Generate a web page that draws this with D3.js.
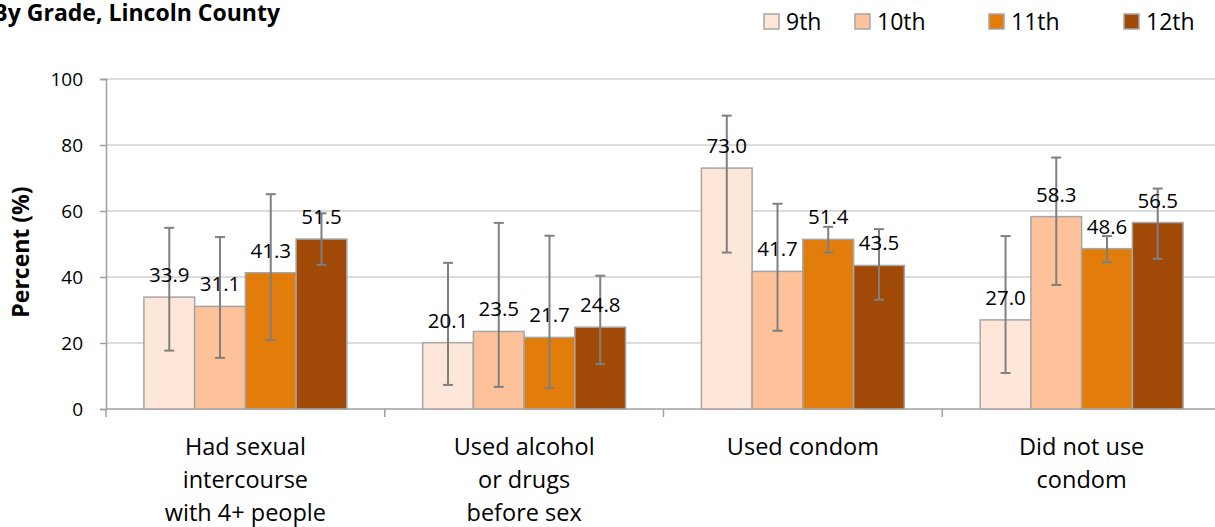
<!DOCTYPE html>
<html lang="en">
<head>
<meta charset="UTF-8">
<title>By Grade, Lincoln County</title>
<script src="https://d3js.org/d3.v7.min.js"></script>
<style>
  body { margin: 0; background: #fff; }
  text { font-family: "Open Sans", sans-serif; fill: #000; }
</style>
</head>
<body>
<script>
// data
var categories = [["Had sexual", "intercourse", "with 4+ people"],
                  ["Used alcohol", "or drugs", "before sex"],
                  ["Used condom"],
                  ["Did not use", "condom"]];
var grades = ["9th", "10th", "11th", "12th"];
var colors = ["#FEE6D9", "#FDC29A", "#E27D0C", "#A14A07"];

var v9  = [33.9, 20.1, 73.0, 27.0];
var v10 = [31.1, 23.5, 41.7, 58.3];
var v11 = [41.3, 21.7, 51.4, 48.6];
var v12 = [51.5, 24.8, 43.5, 56.5];

var lo9  = [17.7, 7.3, 47.4, 10.9],  hi9  = [54.9, 44.3, 88.9, 52.4];
var lo10 = [15.5, 6.7, 23.7, 37.6],  hi10 = [52.1, 56.4, 62.2, 76.2];
var lo11 = [20.9, 6.4, 47.4, 44.5],  hi11 = [65.1, 52.5, 55.2, 52.4];
var lo12 = [43.7, 13.6, 33.1, 45.5], hi12 = [59.3, 40.4, 54.5, 66.8];

var yTicks = [0, 20, 40, 60, 80, 100];

var values = [v9, v10, v11, v12];
var lows = [lo9, lo10, lo11, lo12];
var highs = [hi9, hi10, hi11, hi12];

var W = 1215, H = 527;
var svg = d3.select("body").append("svg")
    .attr("width", W).attr("height", H);

var catIdx = d3.range(categories.length);
var x0 = d3.scaleBand().domain(catIdx).range([106, 1221]);
var groupW = x0.bandwidth() * 0.728;
var x1 = d3.scaleBand().domain(grades).range([0, groupW]);
var gOff = (x0.bandwidth() - groupW) / 2;
var y = d3.scaleLinear().domain([0, 100]).range([409, 79]);

// gridlines
svg.append("g").selectAll("line")
    .data(yTicks.slice(1))
    .join("line")
    .attr("x1", 106).attr("x2", W)
    .attr("y1", d => y(d)).attr("y2", d => y(d))
    .attr("stroke", "#d0d0d0").attr("stroke-width", 1.5);

// y axis
var yAxis = svg.append("g")
    .attr("transform", "translate(106,0)")
    .call(d3.axisLeft(y).tickValues(yTicks).tickSize(6).tickPadding(17));
yAxis.select(".domain").attr("stroke", "#a0a0a0").attr("stroke-width", 1.5);
yAxis.selectAll(".tick line").attr("stroke", "#a0a0a0").attr("stroke-width", 1.5);
yAxis.selectAll(".tick text").style("font-family", "Open Sans").style("font-size", "19px").attr("fill", "#000");

// x axis line and ticks between groups
svg.append("line")
    .attr("x1", 106).attr("x2", W)
    .attr("y1", y(0)).attr("y2", y(0))
    .attr("stroke", "#a0a0a0").attr("stroke-width", 1.5);
svg.append("g").selectAll("line")
    .data(catIdx)
    .join("line")
    .attr("x1", d => x0(d)).attr("x2", d => x0(d))
    .attr("y1", y(0)).attr("y2", y(0) + 8)
    .attr("stroke", "#a0a0a0").attr("stroke-width", 1.5);

// bars
var groups = svg.append("g").selectAll("g")
    .data(catIdx)
    .join("g")
    .attr("transform", d => "translate(" + (x0(d) + gOff) + ",0)");

groups.selectAll("rect")
    .data(c => grades.map((g, i) => ({g: g, i: i, v: values[i][c]})))
    .join("rect")
    .attr("x", d => x1(d.g))
    .attr("y", d => y(d.v))
    .attr("width", x1.bandwidth())
    .attr("height", d => y(0) - y(d.v))
    .attr("fill", d => colors[d.i])
    .attr("stroke", "#a6a6a6").attr("stroke-width", 1.5);

// error bars
var eb = groups.selectAll("g.err")
    .data(c => grades.map((g, i) => ({g: g, lo: lows[i][c], hi: highs[i][c]})))
    .join("g").attr("class", "err")
    .attr("stroke", "#7f7f7f").attr("stroke-width", 2);
eb.append("line")
    .attr("x1", d => x1(d.g) + x1.bandwidth() / 2)
    .attr("x2", d => x1(d.g) + x1.bandwidth() / 2)
    .attr("y1", d => y(d.lo)).attr("y2", d => y(d.hi));
eb.append("line")
    .attr("x1", d => x1(d.g) + x1.bandwidth() / 2 - 5)
    .attr("x2", d => x1(d.g) + x1.bandwidth() / 2 + 5)
    .attr("y1", d => y(d.hi)).attr("y2", d => y(d.hi));
eb.append("line")
    .attr("x1", d => x1(d.g) + x1.bandwidth() / 2 - 5)
    .attr("x2", d => x1(d.g) + x1.bandwidth() / 2 + 5)
    .attr("y1", d => y(d.lo)).attr("y2", d => y(d.lo));

// value labels
groups.selectAll("text.val")
    .data(c => grades.map((g, i) => ({g: g, v: values[i][c]})))
    .join("text").attr("class", "val")
    .attr("x", d => x1(d.g) + x1.bandwidth() / 2)
    .attr("y", d => y(d.v) - 15)
    .attr("text-anchor", "middle")
    .style("font-size", "20.5px")
    .text(d => d.v.toFixed(1));

// category labels
svg.append("g").selectAll("text")
    .data(catIdx)
    .join("text")
    .attr("text-anchor", "middle")
    .attr("x", d => x0(d) + x0.bandwidth() / 2)
    .attr("y", 455)
    .style("font-size", "23.5px")
    .selectAll("tspan")
    .data(d => categories[d])
    .join("tspan")
    .attr("x", function() { return this.parentNode.getAttribute("x"); })
    .attr("dy", (d, i) => i === 0 ? 0 : 33)
    .text(d => d);

// y title
svg.append("text")
    .attr("transform", "translate(29,252) rotate(-90)")
    .attr("text-anchor", "middle")
    .style("font-size", "23px").style("font-weight", "bold")
    .text("Percent (%)");

// title (its left edge runs off the picture, as in the reference)
svg.append("text")
    .attr("x", 280).attr("y", 21)
    .attr("text-anchor", "end")
    .style("font-size", "23px").style("font-weight", "bold")
    .text("By Grade, Lincoln County");

// legend
var legX = [764, 855, 989, 1124];
var leg = svg.append("g").selectAll("g")
    .data(grades)
    .join("g")
    .attr("transform", (d, i) => "translate(" + legX[i] + ",14)");
leg.append("rect")
    .attr("width", 15).attr("height", 15)
    .attr("fill", (d, i) => colors[i])
    .attr("stroke", "#a6a6a6").attr("stroke-width", 1.5);
leg.append("text")
    .attr("x", 22).attr("y", 15.5)
    .style("font-size", "23px")
    .text(d => d);
</script>
</body>
</html>
